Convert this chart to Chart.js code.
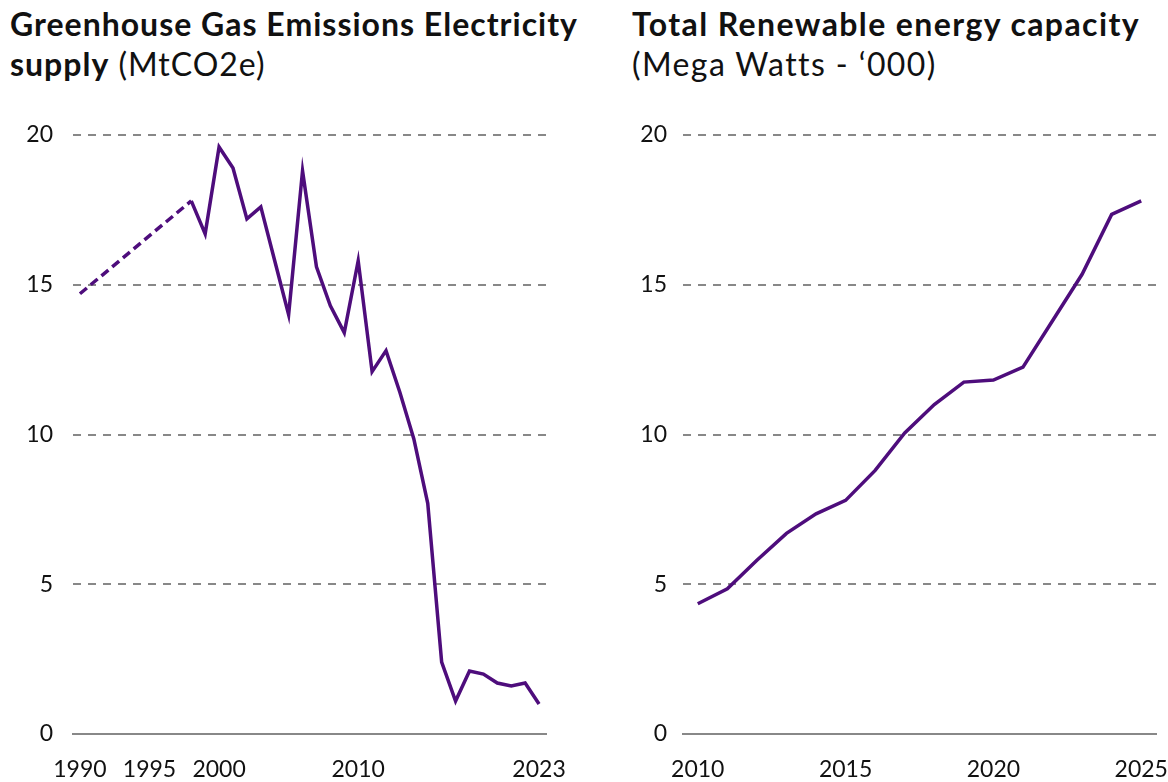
<!DOCTYPE html>
<html>
<head>
<meta charset="utf-8">
<script src="https://cdn.jsdelivr.net/npm/chart.js@4.4.0/dist/chart.umd.min.js"></script>
<style>
  body { margin: 0; background: #fff; width: 1168px; height: 782px; overflow: hidden; position: relative; font-family: Lato, "Noto Sans", sans-serif; color: #111; }
  .titel { position: absolute; top: 4px; font-size: 32px; line-height: 40px; margin: 0; font-weight: normal; letter-spacing: 1px; white-space: nowrap; }
  .titel b { font-weight: 700; }
  #titel1 { left: 10px; }
  #titel2 { left: 632px; letter-spacing: 1.4px; }
  .box { position: absolute; top: 100px; height: 682px; }
  #box1 { left: 0; width: 580px; }
  #box2 { left: 600px; width: 568px; }
</style>
</head>
<body>
<div class="titel" id="titel1"><b>Greenhouse Gas Emissions Electricity</b><br><b>supply</b> (MtCO2e)</div>
<div class="titel" id="titel2"><b>Total Renewable energy capacity</b><br>(Mega Watts - ‘000)</div>
<div class="box" id="box1"><canvas id="plot1"></canvas></div>
<div class="box" id="box2"><canvas id="plot2"></canvas></div>
<script>
// emissoes (sem dados 1991-1997, linha tracejada)
var anos_ghg = [1990, 1998, 1999, 2000, 2001, 2002, 2003, 2004, 2005, 2006, 2007, 2008, 2009, 2010,
                2011, 2012, 2013, 2014, 2015, 2016, 2017, 2018, 2019, 2020, 2021, 2022, 2023];
var valores_ghg = [14.7, 17.8, 16.7, 19.6, 18.9, 17.2, 17.6, 15.8, 14.0, 18.8, 15.6, 14.3, 13.4, 15.8,
                   12.1, 12.8, 11.4, 9.85, 7.7, 2.4, 1.1, 2.1, 2.0, 1.7, 1.6, 1.7, 1.0];
var ticks_ghg = [1990, 1995, 2000, 2010, 2023];

// capacidade renovavel
var anos_ren = [2010, 2011, 2012, 2013, 2014, 2015, 2016, 2017, 2018, 2019, 2020, 2021, 2022, 2023, 2024, 2025];
var valores_ren = [4.35, 4.85, 5.8, 6.7, 7.35, 7.8, 8.8, 10.05, 11.0, 11.75, 11.82, 12.25, 13.8, 15.35, 17.35, 17.8];
var ticks_ren = [2010, 2015, 2020, 2025];

var ticks_y = [0, 5, 10, 15, 20];

var roxo = '#4e0d7c';
var cinza = '#888888';
var fonte = { family: 'Lato, "Noto Sans", sans-serif', size: 23 };

function pontos(anos, valores) {
    return anos.map(function (a, i) { return { x: a, y: valores[i] }; });
}

function func_plot(id, anos, valores, ticks_x, largura_y, pad_direita, tracejado_ate) {
    var config =
    {
        type: 'line',
        data:
        {
            datasets:
                [
                    {
                        label: id,
                        data: pontos(anos, valores),
                        borderColor: roxo,
                        borderWidth: 3.5,
                        pointRadius: 0,
                        tension: 0,
                        borderJoinStyle: 'miter',
                        segment: {
                            borderDash: function (ctx) {
                                return ctx.p1.parsed.x <= tracejado_ate ? [9, 5] : undefined;
                            }
                        }
                    }
                ]
        },
        options:
        {
            responsive: true,
            maintainAspectRatio: false,
            animation: false,
            layout: { padding: { top: 35, right: pad_direita, left: 0, bottom: 0 } },
            plugins: { legend: { display: false }, tooltip: { enabled: false } },
            scales:
            {
                x: {
                    type: 'linear',
                    min: anos[0] - 0.5,
                    max: anos[anos.length - 1] + 0.5,
                    afterBuildTicks: function (eixo) {
                        eixo.ticks = ticks_x.map(function (v) { return { value: v }; });
                    },
                    afterFit: function (eixo) {
                        eixo.height = 48;
                        eixo.paddingLeft = 0;   // nao deixa os labels encolherem a area
                        eixo.paddingRight = 0;
                    },
                    grid: { display: false, drawTicks: false },
                    border: { display: true, color: cinza, width: 2 },
                    ticks: {
                        color: '#111',
                        font: fonte,
                        padding: 22,
                        maxRotation: 0,
                        autoSkip: false,
                        callback: function (v) { return String(v); }
                    }
                },
                y: {
                    min: 0,
                    max: 20,
                    afterBuildTicks: function (eixo) {
                        eixo.ticks = ticks_y.map(function (v) { return { value: v }; });
                    },
                    afterFit: function (eixo) { eixo.width = largura_y; },
                    grid: {
                        drawTicks: false,
                        lineWidth: 2,
                        color: function (ctx) { return ctx.tick && ctx.tick.value === 0 ? 'rgba(0,0,0,0)' : cinza; }
                    },
                    border: { display: false, dash: [8, 7] },
                    ticks: { color: '#111', font: fonte, padding: largura_y === 73 ? 20 : 16 }
                }
            }
        }
    };
    return new Chart(document.getElementById(id), config);
}

func_plot('plot1', anos_ghg, valores_ghg, ticks_ghg, 73, 34, 1998);
func_plot('plot2', anos_ren, valores_ren, ticks_ren, 83, 12, 0);
</script>
</body>
</html>
